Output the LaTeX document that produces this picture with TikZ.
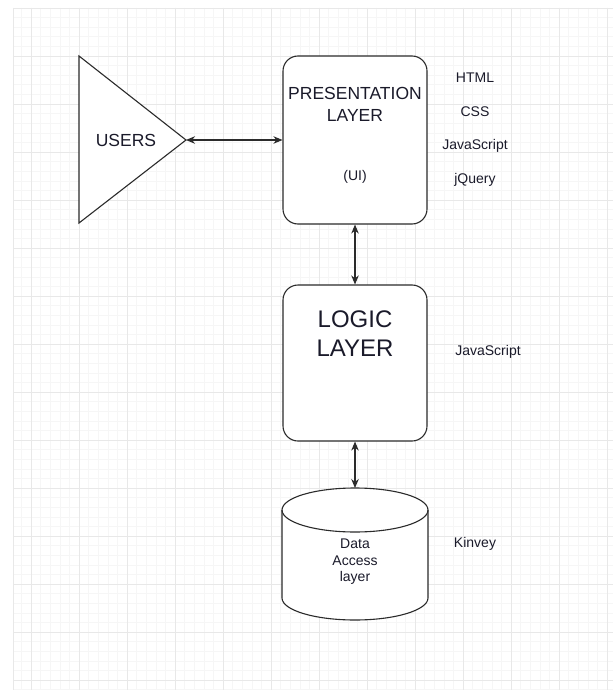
\documentclass[tikz,border=0pt]{standalone}
\usepackage{fontspec}
\setmainfont{Liberation Sans}
\usetikzlibrary{arrows.meta}
\definecolor{gridmajor}{HTML}{E8E8E8}
\definecolor{gridminor}{HTML}{F6F6F6}
\definecolor{edge}{HTML}{2B2B2B}
\definecolor{ink}{HTML}{1A1A2A}
\begin{document}
\begin{tikzpicture}[x=1pt,y=-1pt,
  box/.style={draw=edge,line width=1.1pt,rounded corners=15pt,fill=white,
              minimum width=144pt,inner sep=0pt},
  shape line/.style={draw=edge,line width=1.1pt,fill=white},
  link/.style={line width=1.1pt,edge,{Stealth[length=9pt,width=7.5pt]}-{Stealth[length=9pt,width=7.5pt]}},
  tech/.style={font=\fontsize{14}{16}\selectfont,ink},
  title/.style={align=center,ink}
]
\useasboundingbox (0,0) rectangle (613,690);
\fill[white] (0,0) rectangle (613,690);
% background grid
\foreach \i in {0,...,61}{
  \draw[gridminor,line width=.6pt] ({21.4+9.6*\i},8) -- ({21.4+9.6*\i},690);
}
\foreach \i in {0,...,71}{
  \draw[gridminor,line width=.6pt] (13,{8+9.6*\i}) -- (613,{8+9.6*\i});
}
\foreach \k in {0,...,12}{
  \draw[gridmajor,line width=.8pt] ({31+48*\k},8) -- ({31+48*\k},690);
}
\foreach \k in {0,...,14}{
  \draw[gridmajor,line width=.8pt] (13,{8+48*\k}) -- (613,{8+48*\k});
}
\draw[gridmajor,line width=.8pt] (13,8) -- (13,690);

% users
\draw[shape line] (79,56) -- (186,140) coordinate (apex) -- (79,223) -- cycle;
\node[title,font=\fontsize{17.5}{21}\selectfont] (users) at (126,140) {USERS};

% presentation layer
\node[box,minimum height=168pt] (pres) at (355,140) {};
\node[title,font=\fontsize{17.5}{22}\selectfont] (presname) at (355,104)
  {PRESENTATION\\LAYER};
\node[title,font=\fontsize{14}{16}\selectfont] (ui) at (355,177) {(UI)};

% logic layer
\node[box,minimum height=156pt] (logic) at (355,363) {};
\node[title,font=\fontsize{24}{29}\selectfont] (logicname) at (355,334)
  {LOGIC\\LAYER};

% data access layer (y axis points down, so arcs run the other way)
\draw[shape line] (282,510) -- (282,598) arc (180:0:73 and 22)
  -- (428,510) arc (0:-180:73 and 22) -- cycle;
\draw[draw=edge,line width=1.1pt] (282,510) arc (180:0:73 and 22);
\coordinate (dbtop) at (355,488);
\node[title,font=\fontsize{14}{16.5}\selectfont] (dbname) at (355,562)
  {Data\\Access\\layer};

% technologies
\foreach \t [count=\n] in {HTML,CSS,JavaScript,jQuery}{
  \node[tech] (tech\n) at (475,{44+34*\n}) {\t};
}
\node[tech] (logictech) at (488,352) {JavaScript};
\node[tech] (dbtech) at (475,544) {Kinvey};

% connectors
\draw[link] (apex) -- (pres.west);
\draw[link] (pres.south) -- (logic.north);
\draw[link] (logic.south) -- (dbtop);
\end{tikzpicture}
\end{document}
